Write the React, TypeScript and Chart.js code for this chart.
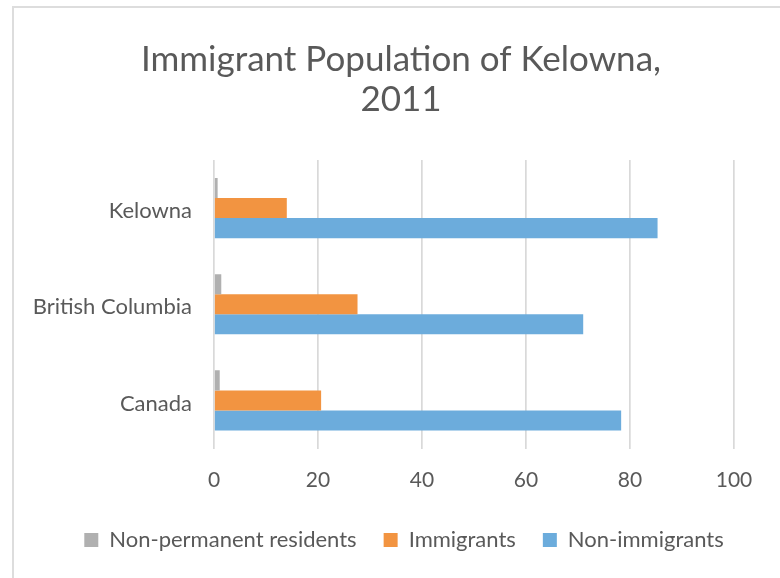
import React, { useEffect, useRef } from "react";
import { Chart, registerables } from "chart.js";

Chart.register(...registerables);

const categories = ["Kelowna", "British Columbia", "Canada"];
const nonPermanent = [0.7, 1.4, 1.1];
const immigrants = [14.0, 27.6, 20.6];
const nonImmigrants = [85.3, 71.0, 78.3];
const xTicks = [0, 20, 40, 60, 80, 100];

const FONT = "Lato";
const TEXT = "#595959";

// Shift title and legend so they are centred on the chart frame, like the original
const centerShift = {
  id: "centerShift",
  afterLayout(chart: any) {
    const t = chart.titleBlock;
    if (t) {
      t.left += 24;
      t.right += 24;
    }
    const l = chart.legend;
    if (l) {
      l.left += 27;
      l.right += 27;
    }
  },
};

export default function App() {
  const ref = useRef<HTMLCanvasElement | null>(null);

  useEffect(() => {
    if (!ref.current) return;
    const chart = new Chart(ref.current, {
      type: "bar",
      data: {
        labels: categories,
        datasets: [
          { label: "Non-permanent residents", data: nonPermanent, backgroundColor: "#B0B0B0" },
          { label: "Immigrants", data: immigrants, backgroundColor: "#F29441" },
          { label: "Non-immigrants", data: nonImmigrants, backgroundColor: "#6CACDC" },
        ],
      },
      plugins: [centerShift],
      options: {
        indexAxis: "y",
        animation: false,
        responsive: true,
        maintainAspectRatio: false,
        layout: { padding: { left: 20, right: 46, top: 40, bottom: 17 } },
        datasets: { bar: { barPercentage: 1, categoryPercentage: 0.625 } },
        scales: {
          x: {
            min: 0,
            max: 100,
            afterBuildTicks: (s: any) => {
              s.ticks = xTicks.map((v) => ({ value: v }));
            },
            grid: { color: "#D9D9D9", lineWidth: 1.7, drawTicks: false },
            border: { display: false },
            ticks: { color: TEXT, font: { family: FONT, size: 21 }, padding: 19 },
            afterFit: (s: any) => {
              s.height = s.height - 9.7;
            },
          },
          y: {
            grid: { display: false, drawTicks: false },
            border: { display: false },
            ticks: { color: TEXT, font: { family: FONT, size: 22 }, padding: 22, labelOffset: 3 },
            afterFit: (s: any) => {
              s.width = 194;
            },
          },
        },
        plugins: {
          title: {
            display: true,
            text: ["Immigrant Population of Kelowna,", "2011"],
            color: TEXT,
            font: { family: FONT, size: 35, weight: "normal" as any, lineHeight: 1.143 },
            padding: { top: 0, bottom: 40 },
          },
          legend: {
            position: "bottom",
            labels: {
              color: TEXT,
              font: { family: FONT, size: 22 },
              boxWidth: 14,
              boxHeight: 14,
              padding: 27,
            },
          },
          tooltip: { enabled: false },
        },
      },
    });
    return () => chart.destroy();
  }, []);

  return (
    <div style={{ position: "fixed", left: 0, top: 0, width: 780, height: 578, background: "#fff", overflow: "hidden" }}>
      <div
        style={{
          position: "absolute",
          left: 12,
          top: 6,
          width: 900,
          height: 700,
          border: "2px solid #DDDDDD",
          boxSizing: "border-box",
        }}
      />
      <div style={{ position: "absolute", left: 0, top: 0, width: 780, height: 578 }}>
        <canvas ref={ref} />
      </div>
    </div>
  );
}
